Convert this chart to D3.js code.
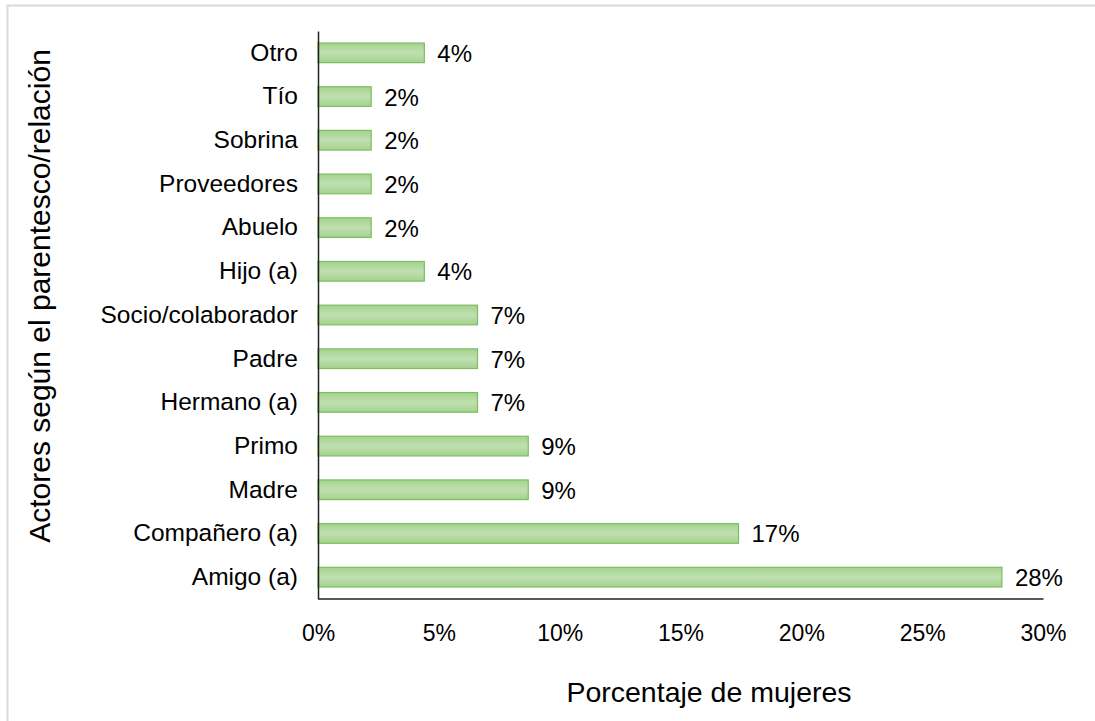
<!DOCTYPE html>
<html>
<head>
<meta charset="utf-8">
<script src="https://cdn.jsdelivr.net/npm/d3@7"></script>
<style>
    body { margin: 0; background: #fff; }
    text { font-family: "Liberation Sans", Arial, sans-serif; fill: #000; }
    .ylab { font-size: 24.5px; }
    .val { font-size: 24px; }
    .xtext { font-size: 23px; }
    .title { font-size: 28.5px; }
    .ytitle { font-size: 30px; }
</style>
</head>
<body>
<script>
// categories, top to bottom
const categories = ["Otro", "Tío", "Sobrina", "Proveedores", "Abuelo", "Hijo (a)",
    "Socio/colaborador", "Padre", "Hermano (a)", "Primo", "Madre",
    "Compañero (a)", "Amigo (a)"];
// percentage of women (%)
const values = [4.4, 2.2, 2.2, 2.2, 2.2, 4.4, 6.6, 6.6, 6.6, 8.7, 8.7, 17.4, 28.3];
const xTicks = [0, 5, 10, 15, 20, 25, 30];

const W = 1095, H = 721;
const plot = {left: 318, right: 1043, top: 31, bottom: 599};

const svg = d3.select("body").append("svg")
    .attr("width", W).attr("height", H);

// outer frame (only top and left edges show)
svg.append("rect")
    .attr("x", 7.5).attr("y", 5.5)
    .attr("width", W + 20).attr("height", H + 20)
    .attr("fill", "none").attr("stroke", "#d9d9d9").attr("stroke-width", 2);

// bar gradient
const grad = svg.append("defs").append("linearGradient")
    .attr("id", "barfill").attr("x1", 0).attr("y1", 0).attr("x2", 0).attr("y2", 1);
grad.append("stop").attr("offset", "0%").attr("stop-color", "#a5d28f");
grad.append("stop").attr("offset", "50%").attr("stop-color", "#bfe0b0");
grad.append("stop").attr("offset", "100%").attr("stop-color", "#a5d28f");

const x = d3.scaleLinear().domain([0, 30]).range([plot.left, plot.right]);
const y = d3.scaleBand().domain(categories).range([plot.top, plot.bottom]).paddingInner(0.55).paddingOuter(0.275);

// bars
svg.append("g").selectAll("rect")
    .data(categories)
    .enter()
    .append("rect")
    .attr("x", x(0))
    .attr("y", d => y(d))
    .attr("width", (d, i) => x(values[i]) - x(0))
    .attr("height", y.bandwidth())
    .attr("fill", "url(#barfill)")
    .attr("stroke", "#7cbf5e")
    .attr("stroke-width", 1.2);

// value labels
svg.append("g").selectAll("text")
    .data(categories)
    .enter()
    .append("text")
    .classed("val", true)
    .attr("x", (d, i) => x(values[i]) + 13)
    .attr("y", d => y(d) + y.bandwidth() / 2 + 9)
    .text((d, i) => Math.round(values[i]) + "%");

// axes
const xAxis = svg.append("g")
    .attr("transform", "translate(0," + (plot.bottom - 0.5) + ")")
    .call(d3.axisBottom(x).tickValues(xTicks).tickSize(0).tickPadding(26).tickFormat(d => d + "%"));
xAxis.select(".domain").attr("stroke", "#222").attr("stroke-width", 1.5);
xAxis.selectAll(".tick text").classed("xtext", true).attr("font-family", null).attr("font-size", null);

const yAxis = svg.append("g")
    .attr("transform", "translate(" + plot.left + ",0)")
    .call(d3.axisLeft(y).tickSize(0).tickPadding(20));
yAxis.select(".domain").attr("stroke", "#222").attr("stroke-width", 1.5);
yAxis.selectAll(".tick text").classed("ylab", true).attr("font-family", null).attr("font-size", null);

// axis titles
svg.append("text")
    .classed("title", true)
    .attr("x", 709)
    .attr("y", 702)
    .attr("text-anchor", "middle")
    .text("Porcentaje de mujeres");

svg.append("text")
    .classed("ytitle", true)
    .attr("transform", "translate(50," + 296 + ") rotate(-90)")
    .attr("text-anchor", "middle")
    .text("Actores según el parentesco/relación");
</script>
</body>
</html>
